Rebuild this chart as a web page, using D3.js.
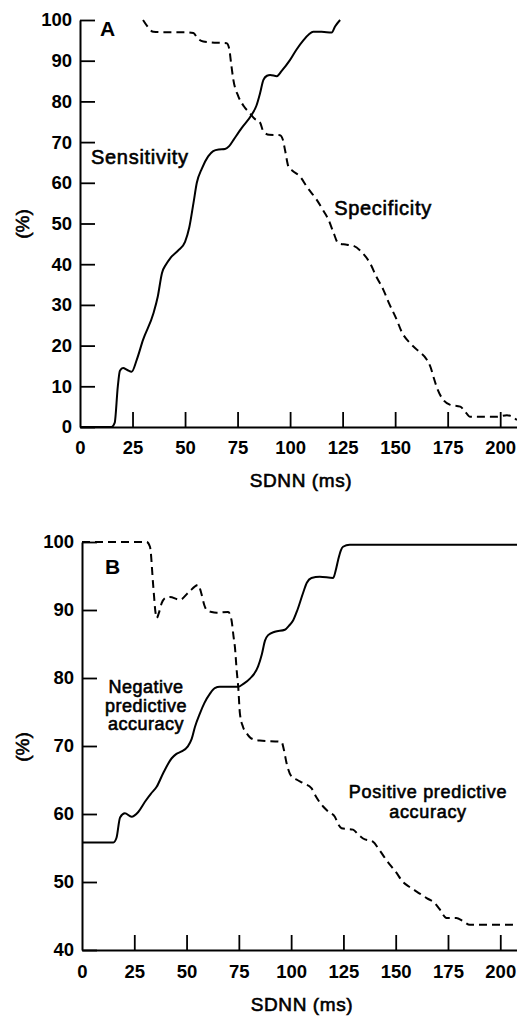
<!DOCTYPE html>
<html>
<head>
<meta charset="utf-8">
<script src="https://cdn.jsdelivr.net/npm/d3@7"></script>
<style>
  html, body { margin: 0; padding: 0; background: #fff; }
  svg { display: block; }
</style>
</head>
<body>
<script>
// ---------- DATA ----------
const xTicks = [0, 25, 50, 75, 100, 125, 150, 175, 200];
const yTicksA = [0, 10, 20, 30, 40, 50, 60, 70, 80, 90, 100];
const yTicksB = [40, 50, 60, 70, 80, 90, 100];

// Panel A: Sensitivity (solid)
const sensX = [0,15,16.5,18,19,20.5,22.5,24.6,27,30,35,37,39,41,43,47,50,52,54,55.6,58,61,63.4,66,69,71,73,77,81.7,84,85.7,87.3,89,90.5,93.7,96,100,103,106.3,109,111,115,119.8,121.4,123.8];
const sensY = [0,0,1,10,13.8,14.5,14,13.6,16.5,21.4,28,32,37.8,40,41.5,43.5,45.5,49,55,60,63.5,66.5,67.8,68.2,68.3,69,70.5,73.5,76.7,79,82,85.3,86.3,86.5,86.2,87.5,90.2,92.7,95,96.5,97.1,97.1,96.9,98.4,100];

// Panel A: Specificity (dashed)
const specX = [30,32,34.9,40,50,54,56,58.7,62,69.8,71,72,73,75.4,78,81,83,85.7,87.3,90,95.2,96.6,97.6,99.2,101,104.8,108,112.7,116,118.3,120.5,123,127,130.2,134,138.1,141,144.4,147,150.8,153,157.1,161,165.1,167,168.2,170,173,176,181,183,185.7,190,198.4,203.2,205,208];
const specY = [100,98.5,97.1,97,97,96.8,95.5,94.7,94.5,94.3,93,89,85.3,81.2,78.8,77,75.8,74.8,72.6,71.8,71.7,70.5,68,64,63,61.5,59,55.8,53,50.9,48,45.1,44.8,44.5,43,40.2,37,33.7,30.5,26.3,23.5,20.6,18.7,16.5,14.5,12.4,9.5,6.6,5.5,5,4,2.5,2.5,2.5,2.9,2.7,1.7];

// Panel B: Negative predictive accuracy (solid)
const npaX = [0,15,16.5,18.2,20.5,23.7,26.9,30.1,33,35.7,38.8,42.9,45,47.6,50.5,52.4,54,56.4,58.5,61.2,63.5,65.9,70,74.7,77,80.3,84.2,86,87.5,89,92.2,97,99,101,103,105.7,107.5,109.7,113.7,120.1,121.3,122.5,123.7,124.8,128,208];
const npaY = [55.8,55.8,56.5,59.5,60.1,59.6,60.3,61.8,63,64,66,68.2,68.8,69.2,69.9,71,72.8,74.8,76.3,77.7,78.5,78.7,78.7,78.7,79.1,79.9,81.7,83.5,85.5,86.3,86.8,87.1,87.7,88.5,90,92.5,94,94.7,94.9,94.7,95.8,97.4,98.7,99.3,99.6,99.6];

// Panel B: Positive predictive accuracy (dashed)
const ppaX = [0,30.9,32.5,34.1,35.2,35.7,36.7,38.1,40,42,46.8,51,55.6,57,58.5,59.6,62,64.4,69.9,71.5,72.5,73.1,74,74.7,75.5,77,78.7,81,85,95.4,96.5,97.8,100.2,103,106,109.7,112,115.3,118,120.9,122.5,124.1,129.6,132,134.4,139.2,142,145.6,150,153.5,157,161.5,165,168.7,171,174.3,179,182,185.4,195,206,208];
const ppaY = [100,100,99.3,93.4,89.5,88.8,89.5,91,91.8,91.9,91.5,92.6,93.7,92.5,90.7,90,89.7,89.6,89.7,88.5,86,84.6,81,78.7,74.8,72.8,71.9,71.1,70.8,70.6,69.5,67.5,65.5,65,64.5,63.8,62.5,61.1,60.3,59.6,58.5,57.9,57.7,57,56.4,55.9,54.8,53.2,51.5,50,49.2,48.3,47.6,46.9,46,44.7,44.7,44.3,43.7,43.7,43.7,43.4];

// ---------- DRAW ----------
const W = 517, H = 1016;
const FONT = "'Liberation Sans', Arial, Helvetica, sans-serif";
const svg = d3.select("body").append("svg").attr("width", W).attr("height", H);

function panel(opt) {
  const x = d3.scaleLinear().domain([0, 208]).range(opt.xRange);
  const y = d3.scaleLinear().domain(opt.yDomain).range(opt.yRange);

  const gx = svg.append("g").attr("transform", `translate(0,${opt.yRange[0]})`)
    .call(d3.axisBottom(x).tickValues(xTicks).tickFormat(d3.format("d"))
      .tickSizeInner(-15).tickSizeOuter(0).tickPadding(opt.xPad));
  gx.select(".domain").attr("stroke", "#000").attr("stroke-width", 2);
  gx.selectAll(".tick line").attr("stroke", "#000").attr("stroke-width", 1.8)
    .filter(d => d === 0).remove();
  gx.selectAll(".tick text").attr("font-family", FONT).attr("font-size", 18.5)
    .attr("font-weight", "bold").attr("fill", "#000");

  const gy = svg.append("g").attr("transform", `translate(${opt.xRange[0]},0)`)
    .call(d3.axisLeft(y).tickValues(opt.yTicks).tickFormat(d3.format("d"))
      .tickSizeInner(-15).tickSizeOuter(0).tickPadding(8));
  gy.select(".domain").attr("stroke", "#000").attr("stroke-width", 2);
  gy.selectAll(".tick line").attr("stroke", "#000").attr("stroke-width", 1.8);
  gy.selectAll(".tick text").attr("font-family", FONT).attr("font-size", 18.5)
    .attr("font-weight", "bold").attr("fill", "#000");

  const line = d3.line().x(d => x(d[0])).y(d => y(d[1])).curve(d3.curveMonotoneX);
  opt.series.forEach(s => {
    svg.append("path").datum(d3.zip(s.xs, s.ys))
      .attr("d", line).attr("fill", "none").attr("stroke", "#000")
      .attr("stroke-width", 2).attr("stroke-dasharray", s.dash ? "8,5" : null)
      .attr("stroke-linejoin", "round");
  });
  return { x, y };
}

panel({
  xRange: [80, 517], yDomain: [0, 100], yRange: [427, 20], yTicks: yTicksA, xPad: 14,
  series: [{ xs: sensX, ys: sensY, dash: false }, { xs: specX, ys: specY, dash: true }]
});
panel({
  xRange: [82, 517], yDomain: [40, 100], yRange: [950, 542], yTicks: yTicksB, xPad: 15,
  series: [{ xs: npaX, ys: npaY, dash: false }, { xs: ppaX, ys: ppaY, dash: true }]
});

function label(txt, x, y, size, opts = {}) {
  const t = svg.append("text").attr("x", x).attr("y", y)
    .attr("font-family", FONT).attr("font-size", size)
    .attr("font-weight", opts.bold ? "bold" : "normal")
    .attr("text-anchor", opts.anchor || "start").attr("fill", "#000")
    .attr("stroke", opts.bold ? null : "#000").attr("stroke-width", opts.bold ? null : 0.6)
    .text(txt);
  if (opts.ls) t.attr("letter-spacing", opts.ls);
  if (opts.rotate) t.attr("transform", `rotate(-90,${x},${y})`);
  return t;
}

// Panel A labels
label("A", 100, 36, 21, { bold: true });
label("Sensitivity", 91, 164, 20, { ls: 0.7 });
label("Specificity", 383, 215, 20, { anchor: "middle", ls: 0.7 });
label("(%)", 29, 224, 19, { anchor: "middle", rotate: true });
label("SDNN (ms)", 301, 487, 19, { anchor: "middle", ls: 0.6 });

// Panel B labels
label("B", 105, 574, 21, { bold: true });
label("Negative", 146, 693, 18, { anchor: "middle", ls: 0.5 });
label("predictive", 146, 712, 18, { anchor: "middle", ls: 0.5 });
label("accuracy", 146, 730, 18, { anchor: "middle", ls: 0.5 });
label("Positive predictive", 428, 798, 18, { anchor: "middle", ls: 0.7 });
label("accuracy", 428, 818, 18, { anchor: "middle", ls: 0.7 });
label("(%)", 29, 747, 19, { anchor: "middle", rotate: true });
label("SDNN (ms)", 302, 1011, 19, { anchor: "middle", ls: 0.6 });
</script>
</body>
</html>
